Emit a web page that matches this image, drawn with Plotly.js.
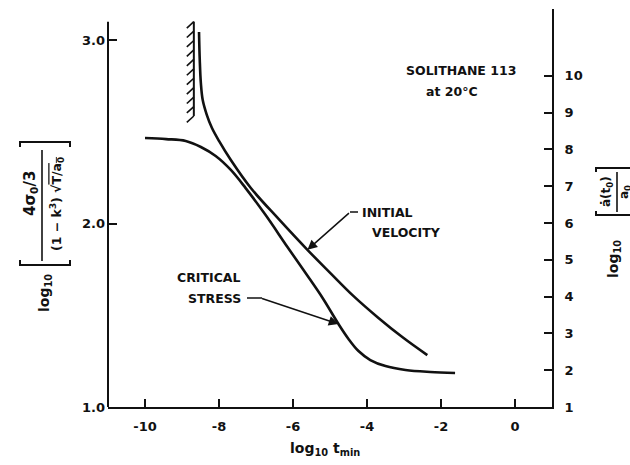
<!DOCTYPE html>
<html><head><meta charset="utf-8">
<script src="https://cdn.plot.ly/plotly-3.0.1.min.js"></script>
<style>html,body{margin:0;padding:0;background:#fff}#chart{width:630px;height:465px}</style>
</head><body><div id="chart"></div>
<script>
// ---- data ----
const xTickVals = [-10, -8, -6, -4, -2, 0];
const xTickText = ['-10', '-8', '-6', '-4', '-2', '0'];
const yLeftTickVals = [1, 2, 3];
const yLeftTickText = ['1.0', '2.0', '3.0'];
const yRightTickVals = [1, 2, 3, 4, 5, 6, 7, 8, 9, 10];
const yRightTickText = ['1', '2', '3', '4', '5', '6', '7', '8', '9', '10'];

// critical stress (left axis)
const stressX = [-10.0, -9.43, -8.90, -8.49, -8.09, -7.68, -7.28, -6.74, -6.15, -5.66, -5.20, -4.77, -4.50, -4.23, -3.91, -3.50, -2.96, -2.29, -1.62];
const stressY = [2.466, 2.460, 2.450, 2.417, 2.368, 2.292, 2.193, 2.046, 1.872, 1.730, 1.594, 1.452, 1.371, 1.305, 1.256, 1.223, 1.202, 1.191, 1.185];
// initial velocity (right axis)
const velocityX = [-8.54, -8.52, -8.49, -8.44, -8.33, -8.19, -8.00, -7.68, -7.14, -6.39, -5.61, -4.99, -4.37, -3.69, -3.02, -2.37];
const velocityY = [11.19, 10.43, 9.80, 9.34, 8.94, 8.58, 8.23, 7.71, 6.95, 6.11, 5.27, 4.64, 4.02, 3.42, 2.88, 2.41];

// hatched wall (left axis units)
const wallX = -8.68;
const wallY = [2.586, 3.10];
const hatchCount = 11;

// ---- helpers ----
const L = 108, R = 552, T = 9, B = 407;
const px = x => (x - L) / (R - L);
const py = y => (B - y) / (B - T);
const FONT = 'DejaVu Sans';
const INK = '#111';

// wall hatches
const hx = [], hy = [];
for (let i = 0; i < hatchCount; i++) {
  const yk = wallY[1] - i * (wallY[1] - wallY[0]) / (hatchCount - 1);
  hx.push(wallX - 0.19, wallX, null);
  hy.push(yk - 0.035, yk, null);
}

const traces = [
  {x: stressX, y: stressY, mode: 'lines', line: {color: INK, width: 2.6, shape: 'spline', smoothing: 1}, hoverinfo: 'skip'},
  {x: velocityX, y: velocityY, yaxis: 'y2', mode: 'lines', line: {color: INK, width: 2.6, shape: 'spline', smoothing: 1}, hoverinfo: 'skip'},
  {x: [wallX, wallX], y: wallY, mode: 'lines', line: {color: INK, width: 2}, hoverinfo: 'skip'},
  {x: hx, y: hy, mode: 'lines', line: {color: INK, width: 1.6}, hoverinfo: 'skip'}
];

const tf = {family: FONT, size: 13, color: INK, weight: 'bold'};
const af = {family: FONT, size: 12.5, color: INK, weight: 'bold'};

function txt(text, x, y, opts) {
  return Object.assign({text: text, xref: 'paper', yref: 'paper', x: px(x), y: py(y), showarrow: false, font: af, xanchor: 'center', yanchor: 'middle'}, opts || {});
}

const annotations = [
  txt('SOLITHANE 113', 461, 70),
  txt('at 20°C', 452, 92),
  txt('INITIAL', 360, 212, {xanchor: 'left'}),
  txt('VELOCITY', 370, 232, {xanchor: 'left'}),
  txt('CRITICAL', 242, 277, {xanchor: 'right'}),
  txt('STRESS', 243, 298, {xanchor: 'right'}),
  // arrows
  {x: velocityX[10], y: velocityY[10], xref: 'x', yref: 'y2', text: '', showarrow: true, ax: 43, ay: -38,
   arrowhead: 2, arrowsize: 1.3, arrowwidth: 1.5, arrowcolor: INK, standoff: 0},
  {x: stressX[11], y: stressY[11], xref: 'x', yref: 'y', text: '', showarrow: true, ax: -78, ay: -26,
   arrowhead: 2, arrowsize: 1.3, arrowwidth: 1.5, arrowcolor: INK, standoff: 0},
  // x title
  txt('log<sub>10</sub> t<sub>min</sub>', 325, 449, {font: {family: FONT, size: 14, color: INK, weight: 'bold'}}),
  // left y title
  txt('log<sub>10</sub>', 45, 293, {textangle: -90, font: {family: FONT, size: 14, color: INK, weight: 'bold'}}),
  txt('4σ<sub>0</sub>/3', 31, 194, {textangle: -90, font: {family: FONT, size: 15, color: INK, weight: 'bold'}}),
  txt('(1 − k<sup>3</sup>) √<span style="text-decoration:overline">T/a<sub>0</sub></span>', 57, 204, {textangle: -90, font: {family: FONT, size: 12.5, color: INK, weight: 'bold'}}),
  // right y title
  txt('log<sub>10</sub>', 614, 259, {textangle: -90, font: {family: FONT, size: 14, color: INK, weight: 'bold'}}),
  txt('ȧ(t<sub>0</sub>)', 607, 192, {textangle: -90, font: {family: FONT, size: 12, color: INK, weight: 'bold'}}),
  txt('a<sub>0</sub>', 625, 192, {textangle: -90, font: {family: FONT, size: 12, color: INK, weight: 'bold'}})
];

function seg(x0, y0, x1, y1, w) {
  return {type: 'line', xref: 'paper', yref: 'paper', x0: px(x0), y0: py(y0), x1: px(x1), y1: py(y1), line: {color: INK, width: w || 2}};
}
function pathShape(pts, w) {
  const d = pts.map((p, i) => (i ? 'L' : 'M') + px(p[0]) + ',' + py(p[1])).join(' ');
  return {type: 'path', xref: 'paper', yref: 'paper', path: d, line: {color: INK, width: w || 2}};
}

const shapes = [
  // left axis line (shorter than plot area)
  {type: 'line', xref: 'paper', yref: 'y', x0: 0, x1: 0, y0: 1, y1: 3.1, line: {color: INK, width: 2}},
  // leader dashes
  seg(350, 212, 358, 212, 1.5),
  seg(247, 298, 262, 298, 1.5),
  // left title brackets & fraction bar
  pathShape([[20, 147], [20, 142], [70, 142], [70, 147]], 2),
  pathShape([[20, 260], [20, 265], [70, 265], [70, 260]], 2),
  seg(42, 150, 42, 261, 1.6),
  // right title brackets & fraction bar
  pathShape([[596, 172], [596, 168], [640, 168]], 2),
  pathShape([[596, 211], [596, 215], [640, 215]], 2),
  seg(617, 172, 617, 212, 1.6)
];

const layout = {
  width: 630, height: 465,
  margin: {l: L, r: 630 - R, t: T, b: 465 - B, pad: 0},
  paper_bgcolor: '#fff', plot_bgcolor: '#fff',
  showlegend: false,
  font: {family: FONT, color: INK},
  xaxis: {range: [-11, 1], tickvals: xTickVals, ticktext: xTickText, ticks: 'inside', ticklen: 8, tickwidth: 2, tickcolor: INK,
          showline: true, linewidth: 2, linecolor: INK, showgrid: false, zeroline: false, tickfont: tf, ticklabelstandoff: 6},
  yaxis: {range: [1, 1 + (B - T) / 183.5], tickvals: yLeftTickVals, ticktext: yLeftTickText, ticks: 'inside', ticklen: 9, tickwidth: 2, tickcolor: INK,
          showline: false, showgrid: false, zeroline: false, tickfont: tf, ticklabelstandoff: 2},
  yaxis2: {range: [1, 1 + (B - T) / 36.8], overlaying: 'y', side: 'right', tickvals: yRightTickVals, ticktext: yRightTickText, ticks: 'inside', ticklen: 8, tickwidth: 2, tickcolor: INK,
           showline: true, linewidth: 2, linecolor: INK, showgrid: false, zeroline: false, tickfont: tf, ticklabelstandoff: 8},
  annotations: annotations,
  shapes: shapes
};

Plotly.newPlot('chart', traces, layout, {staticPlot: true, displayModeBar: false});
</script>
</body></html>
